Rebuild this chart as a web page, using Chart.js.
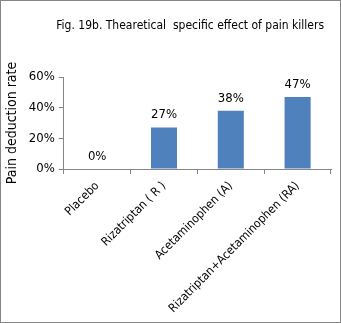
<!DOCTYPE html>
<html>
<head>
<meta charset="utf-8">
<script src="https://cdn.jsdelivr.net/npm/chart.js@4.4.1/dist/chart.umd.min.js"></script>
<style>
  html, body { margin: 0; padding: 0; background: #fff; }
  #wrap { width: 341px; height: 323px; position: relative; }
</style>
</head>
<body>
<div id="wrap"><canvas id="myChart" width="341" height="323"></canvas></div>
<script>
(function () {
    "use strict";

    var categories = ["Placebo", "Rizatriptan ( R )", "Acetaminophen (A)", "Rizatriptan+Acetaminophen (RA)"];
    var painDeduction = [0, 27, 38, 47];
    var yTicks = [0, 20, 40, 60];
    var titleText = "Fig. 19b. Thearetical  specific effect of pain killers";

    var FONT = "'Liberation Sans Narrow', 'DejaVu Sans Condensed', 'Open Sans', sans-serif";
    var AXIS = "#868686";

    // title, value labels above the bars, outer frame
    var extras = {
        id: "extras",
        afterDatasetsDraw: function (chart) {
            var ctx = chart.ctx;
            var meta = chart.getDatasetMeta(0);
            ctx.save();
            ctx.fillStyle = "#000";
            ctx.font = "13px " + FONT;
            ctx.textAlign = "center";
            ctx.textBaseline = "bottom";
            meta.data.forEach(function (bar, i) {
                ctx.fillText(painDeduction[i] + "%", bar.x, bar.y - 6);
            });
            ctx.restore();
        },
        afterDraw: function (chart) {
            var ctx = chart.ctx;
            ctx.save();
            ctx.fillStyle = "#000";
            ctx.font = "12px " + FONT;
            ctx.textAlign = "right";
            ctx.textBaseline = "middle";
            ctx.fillText(titleText, 324, 26);
            ctx.strokeStyle = AXIS;
            ctx.lineWidth = 1;
            ctx.strokeRect(0.5, 0.5, chart.width - 1, chart.height - 1);
            ctx.restore();
        }
    };

    var ctx = document.getElementById("myChart");
    new Chart(ctx, {
        type: "bar",
        data: {
            labels: categories,
            datasets: [
                {
                    label: "Pain deduction rate",
                    backgroundColor: "#4f81bd",
                    data: painDeduction,
                    barPercentage: 0.39,
                    categoryPercentage: 1.0,
                },
            ],
        },
        options: {
            responsive: false,
            animation: false,
            layout: {
                padding: { left: 4, right: 10, top: 77, bottom: 8 },
            },
            plugins: {
                legend: { display: false },
                tooltip: { enabled: false },
                title: { display: false },
            },
            scales: {
                x: {
                    afterFit: function (axis) {
                        axis.height = 146;
                    },
                    grid: {
                        display: true,
                        drawOnChartArea: false,
                        drawTicks: true,
                        tickLength: 5,
                        color: AXIS,
                        offset: true,
                    },
                    border: { color: AXIS },
                    ticks: {
                        color: "#000",
                        font: { family: FONT, size: 12 },
                        minRotation: 45,
                        maxRotation: 45,
                        autoSkip: false,
                        padding: 5,
                    },
                },
                y: {
                    min: yTicks[0],
                    max: yTicks[yTicks.length - 1],
                    afterBuildTicks: function (axis) {
                        axis.ticks = yTicks.map(function (v) { return { value: v }; });
                    },
                    grid: {
                        display: true,
                        drawOnChartArea: false,
                        drawTicks: true,
                        tickLength: 5,
                        color: AXIS,
                    },
                    border: { color: AXIS },
                    ticks: {
                        color: "#000",
                        font: { family: FONT, size: 13 },
                        padding: 4,
                        callback: function (v) { return v + "%"; },
                    },
                    title: {
                        display: true,
                        text: "Pain deduction rate",
                        color: "#000",
                        font: { family: FONT, size: 14 },
                        padding: { top: 0, bottom: 4 },
                    },
                },
            },
        },
        plugins: [extras],
    });
})();
</script>
</body>
</html>
